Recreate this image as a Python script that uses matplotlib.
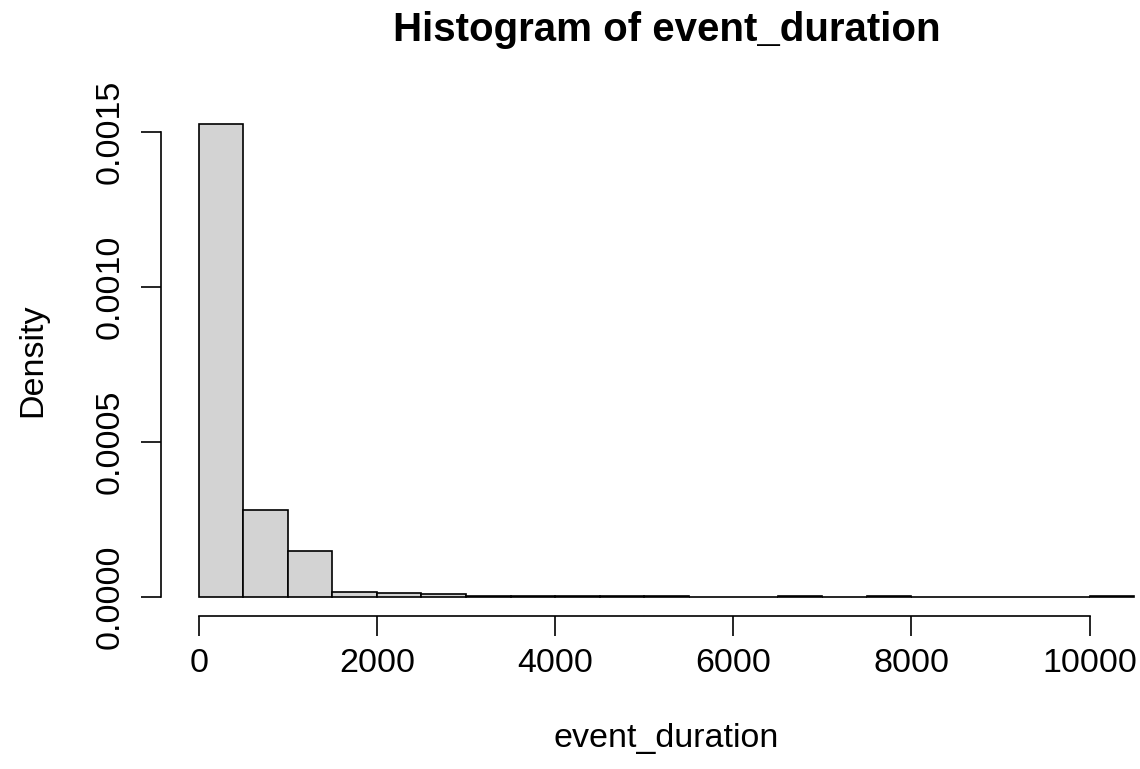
import matplotlib
matplotlib.use("Agg")
import matplotlib.pyplot as plt
import numpy as np

plt.rcParams['font.family'] = ['Liberation Sans', 'DejaVu Sans']

# bin edges (width 500) and density per bin
bin_edges = np.arange(0, 10501, 500)
density = [0.001525, 0.00028, 0.000148, 0.000015, 0.000011, 0.0000087,
           0.0000015, 0.000002, 0.000001, 0.000001, 0.000001, 0.0, 0.0,
           0.0000008, 0.0, 0.0000008, 0.0, 0.0, 0.0, 0.0, 0.0000008]
x_ticks = [0, 2000, 4000, 6000, 8000, 10000]
y_ticks = [0.0, 0.0005, 0.0010, 0.0015]
y_tick_labels = ["0.0000", "0.0005", "0.0010", "0.0015"]

W, H = 1140, 769
fig = plt.figure(figsize=(W / 100, H / 100), dpi=100)
ax = fig.add_axes([161.3 / W, 1 - 615.6 / H, 1 - 161.3 / W, (615.6 - 105) / H])

ax.bar(bin_edges[:-1], density, width=500, align='edge',
       color='#d3d3d3', edgecolor='black', linewidth=1.2)

ax.set_xlim(-420, 10565)
ax.set_ylim(-0.000061, 0.001586)

for s in ['top', 'right']:
    ax.spines[s].set_visible(False)
ax.spines['left'].set_bounds(0, 0.0015)
ax.spines['bottom'].set_bounds(0, 10000)
for s in ['left', 'bottom']:
    ax.spines[s].set_linewidth(1.2)

ax.set_xticks(x_ticks)
ax.set_xticklabels([str(t) for t in x_ticks])
ax.set_yticks(y_ticks)
ax.set_yticklabels(y_tick_labels, rotation=90, va='center')
ax.tick_params(direction='out', length=14.4, width=1.2, labelsize=24.5)
ax.tick_params(axis='x', pad=9)
ax.tick_params(axis='y', pad=11)

fig.text(666.5 / W, 1 - 30 / H, "Histogram of event_duration",
         ha='center', va='center', fontsize=29, fontweight='bold')
fig.text(666.5 / W, 1 - 738 / H, "event_duration",
         ha='center', va='center', fontsize=24.5)
fig.text(33 / W, 1 - 360 / H, "Density", rotation=90,
         ha='center', va='center', fontsize=24.5)

fig.savefig("out.png", dpi=100)
